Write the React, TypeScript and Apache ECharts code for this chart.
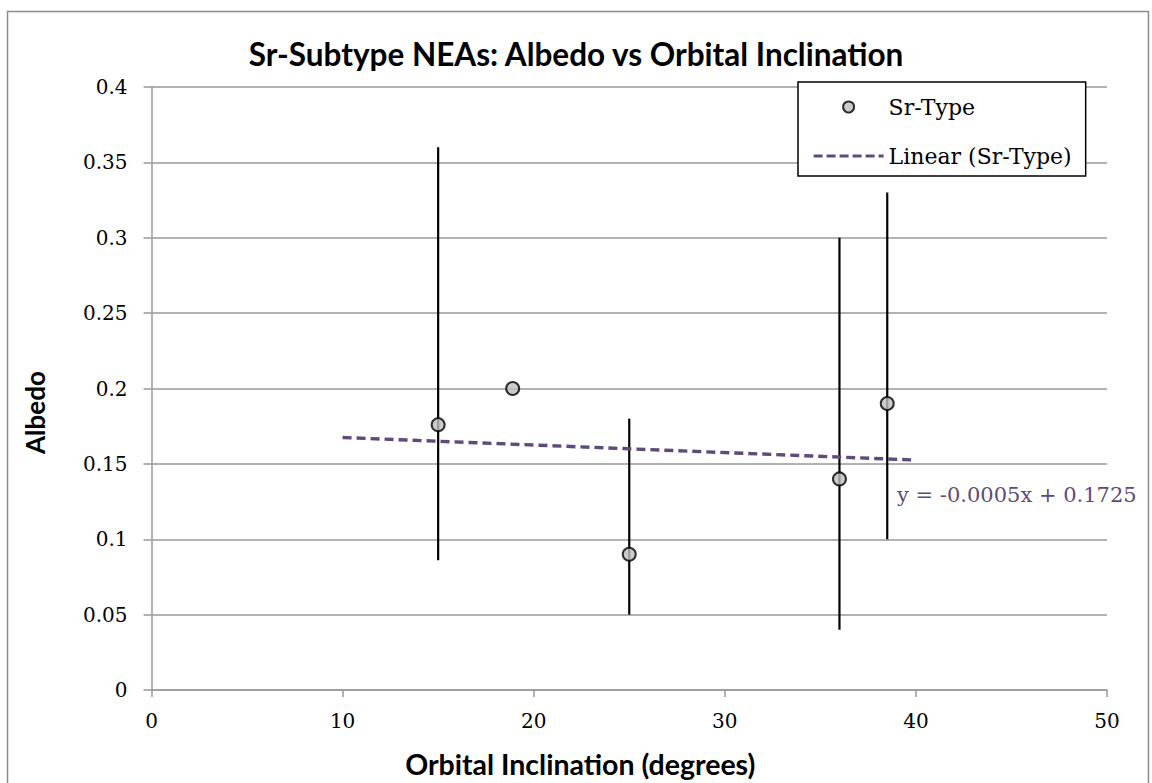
import React, { useEffect, useRef } from "react";
import * as echarts from "echarts";

// ---- data ----
const inclination = [15, 18.9, 25, 36, 38.5];
const albedo = [0.176, 0.2, 0.09, 0.14, 0.19];
const albedoLow = [0.086, null, 0.05, 0.04, 0.1];
const albedoHigh = [0.36, null, 0.18, 0.3, 0.33];
const trendX = [10, 40];
const trendY = [0.1675, 0.1525];
const trendEquation = "y = -0.0005x + 0.1725";
const xTicks = { min: 0, max: 50, interval: 10 };
const yTicks = { min: 0, max: 0.4, interval: 0.05 };

const PURPLE = "#604a7b";
const SERIF = "DejaVu Serif";
const SANS = "Lato";

export default function App() {
  const ref = useRef<HTMLDivElement>(null);
  useEffect(() => {
    if (!ref.current) return;
    const chart = echarts.init(ref.current, null, { renderer: "svg" });
    const points = inclination.map((x, i) => [x, albedo[i]]);
    const bars = inclination
      .map((x, i) => [x, albedoLow[i], albedoHigh[i]])
      .filter((d) => d[1] != null && d[2] != null);
    const trend = trendX.map((x, i) => [x, trendY[i]]);

    chart.setOption({
      animation: false,
      backgroundColor: "#ffffff",
      title: {
        text: "Sr-Subtype NEAs: Albedo vs Orbital Inclination",
        left: "center",
        top: 31,
        textStyle: { fontFamily: SANS, fontWeight: "bold", fontSize: 31.5, color: "#000", lineHeight: 36 },
      },
      grid: { left: 151.5, right: 45, top: 87, bottom: 88 },
      legend: {
        orient: "vertical",
        left: 798,
        top: 82,
        padding: [13, 14, 8, 14],
        itemGap: 25,
        itemWidth: 70,
        itemHeight: 11,
        backgroundColor: "#ffffff",
        borderColor: "#000000",
        borderWidth: 1.5,
        borderRadius: 0,
        textStyle: { fontFamily: SERIF, fontSize: 22, color: "#000", lineHeight: 24 },
        data: [
          { name: "Sr-Type" },
          {
            name: "Linear (Sr-Type)",
            itemStyle: { color: "rgba(0,0,0,0)", borderWidth: 0, opacity: 0 },
            lineStyle: { color: PURPLE, width: 3.2, type: [9, 4] },
          },
        ],
      },
      xAxis: {
        type: "value",
        min: xTicks.min,
        max: xTicks.max,
        interval: xTicks.interval,
        name: "Orbital Inclination (degrees)",
        nameLocation: "middle",
        nameGap: 59,
        nameTextStyle: {
          fontFamily: SANS,
          fontWeight: "bold",
          fontSize: 28.5,
          color: "#000",
          padding: [0, 98, 0, 0],
        },
        axisLine: { show: true, lineStyle: { color: "#999", width: 1.5 } },
        axisTick: { show: true, length: 7, lineStyle: { color: "#999", width: 1.5 } },
        axisLabel: { fontFamily: SERIF, fontSize: 20, color: "#000", margin: 21 },
        splitLine: { show: false },
      },
      yAxis: {
        type: "value",
        min: yTicks.min,
        max: yTicks.max,
        interval: yTicks.interval,
        name: "Albedo",
        nameLocation: "middle",
        nameRotate: 90,
        nameGap: 104,
        nameTextStyle: {
          fontFamily: SANS,
          fontWeight: "bold",
          fontSize: 26,
          color: "#000",
          padding: [0, 48, 0, 0],
        },
        axisLine: { show: true, lineStyle: { color: "#999", width: 1.5 } },
        axisTick: { show: true, length: 8, lineStyle: { color: "#999", width: 1.5 } },
        axisLabel: {
          fontFamily: SERIF,
          fontSize: 20,
          color: "#000",
          margin: 24,
          formatter: (v: number) => String(Math.round(v * 100) / 100),
        },
        splitLine: { show: true, lineStyle: { color: "#999", width: 1.5 } },
      },
      series: [
        {
          name: "error",
          type: "custom",
          data: bars,
          z: 3,
          renderItem: (params: any, api: any) => {
            const x = api.value(0);
            const lo = api.coord([x, api.value(1)]);
            const hi = api.coord([x, api.value(2)]);
            return {
              type: "line",
              shape: { x1: lo[0], y1: lo[1], x2: hi[0], y2: hi[1] },
              style: { stroke: "#000", lineWidth: 2.2 },
            };
          },
          silent: true,
        },
        {
          name: "Linear (Sr-Type)",
          type: "line",
          data: trend,
          showSymbol: false,
          symbol: "none",
          z: 4,
          lineStyle: { color: PURPLE, width: 3.4, type: [9, 5] },
          itemStyle: { color: PURPLE },
          silent: true,
        },
        {
          name: "Sr-Type",
          type: "scatter",
          data: points,
          symbol: "circle",
          symbolSize: 13,
          z: 5,
          itemStyle: { color: "#bfbfbf", borderColor: "#000", borderWidth: 2 },
        },
      ],
      graphic: [
        {
          type: "rect",
          left: 5,
          top: 9,
          shape: { width: 1141, height: 800 },
          style: { fill: "none", stroke: "#8c8c8c", lineWidth: 1.5 },
          silent: true,
          z: -10,
        },
        {
          type: "text",
          left: 897,
          top: 484,
          style: { text: trendEquation, fill: PURPLE, font: `21px '${SERIF}'` },
          z: 10,
        },
      ],
    });
    return () => chart.dispose();
  }, []);
  return (
    <div
      ref={ref}
      style={{ position: "fixed", left: 0, top: 0, width: 1152, height: 783 }}
    />
  );
}
